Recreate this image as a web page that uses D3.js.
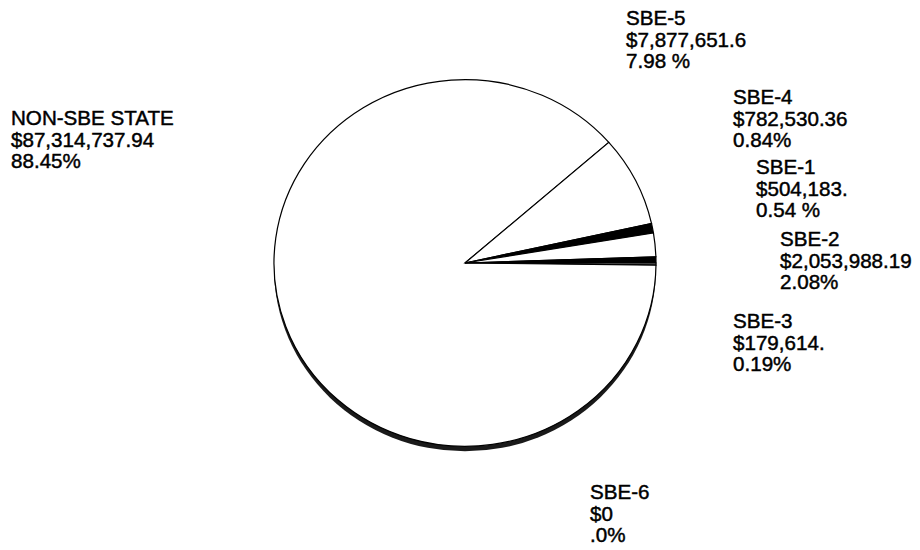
<!DOCTYPE html>
<html>
<head>
<meta charset="utf-8">
<script src="https://cdn.jsdelivr.net/npm/d3@7/dist/d3.min.js"></script>
<style>
  html, body { margin: 0; padding: 0; background: #fff; }
  svg { display: block; }
  text { font-family: "Liberation Sans", Arial, sans-serif; font-size: 20.6px; fill: #000; stroke: #000; stroke-width: 0.45px; }
</style>
</head>
<body>
<svg id="chart" width="920" height="550"></svg>
<script>
// Data (clockwise from 3 o'clock)
const categories = ["SBE-3", "SBE-6", "NON-SBE STATE", "SBE-5", "SBE-4", "SBE-2", "SBE-1"];
const percents   = [0.19, 0, 88.45, 7.98, 0.84, 2.08, 0.54];
const amountLabels  = ["$179,614.", "$0", "$87,314,737.94", "$7,877,651.6", "$782,530.36", "$2,053,988.19", "$504,183."];
const percentLabels = ["0.19%", ".0%", "88.45%", "7.98 %", "0.84%", "2.08%", "0.54 %"];
const sliceFill     = ["#fff", "#fff", "#fff", "#fff", "#000", "#fff", "#000"];

// Layout (label anchor positions: left x, first baseline y)
const labelPos = [[733, 328], [590, 499], [11, 125], [626, 25], [733, 104], [780, 246], [756, 174]];

const svg = d3.select("#chart");
const cx = 465, cy = 263, r = 191, yScale = 0.96;

// bottom edge shadow
svg.append("ellipse")
  .attr("cx", cx).attr("cy", cy + 5)
  .attr("rx", r).attr("ry", r * yScale)
  .attr("fill", "#1a1a1a");

const pie = d3.pie().sort(null).value(d => d)
  .startAngle(Math.PI / 2).endAngle(Math.PI / 2 + 2 * Math.PI);
const arc = d3.arc().innerRadius(0).outerRadius(r);

const g = svg.append("g")
  .attr("transform", `translate(${cx},${cy}) scale(1,${yScale})`);

g.selectAll("path")
  .data(pie(percents))
  .join("path")
  .attr("d", arc)
  .attr("fill", (d, i) => sliceFill[i])
  .attr("stroke", "#000")
  .attr("stroke-width", 1.2)
  .attr("vector-effect", "non-scaling-stroke");

const lh = 21.5;
categories.forEach((c, i) => {
  const [x, y] = labelPos[i];
  const t = svg.append("text").attr("x", x).attr("y", y);
  [c, amountLabels[i], percentLabels[i]].forEach((s, k) => {
    t.append("tspan").attr("x", x).attr("y", y + k * lh).text(s);
  });
});
</script>
</body>
</html>
